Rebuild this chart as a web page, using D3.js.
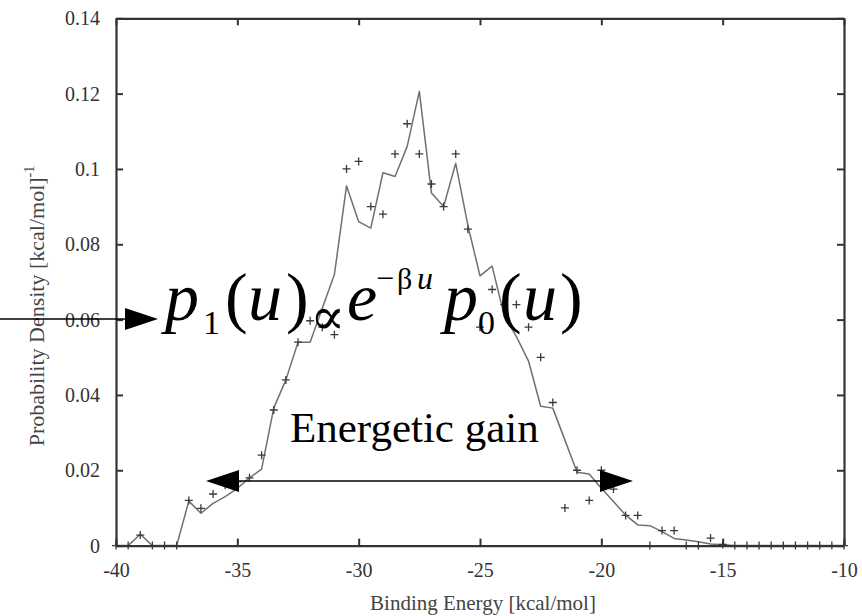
<!DOCTYPE html>
<html>
<head>
<meta charset="utf-8">
<script src="https://cdn.jsdelivr.net/npm/d3@7"></script>
<style>
  html, body { margin: 0; padding: 0; background: #fff; }
  svg { display: block; }
  text { font-family: "Liberation Serif", "DejaVu Serif", "Times New Roman", serif; }
</style>
</head>
<body>
<svg id="chart" width="862" height="616"></svg>
<script>
// ---------------- data ----------------
const energy = [-40, -39.5, -39, -38.5, -38, -37.5, -37, -36.5, -36, -35.5,
  -35, -34.5, -34, -33.5, -33, -32.5, -32, -31.5, -31, -30.5,
  -30, -29.5, -29, -28.5, -28, -27.5, -27, -26.5, -26, -25.5,
  -25, -24.5, -24, -23.5, -23, -22.5, -22, -21.5, -21, -20.5,
  -20, -19.5, -19, -18.5, -18, -17.5, -17, -16.5, -16, -15.5,
  -15, -14.5, -14, -13.5, -13, -12.5, -12, -11.5, -11, -10.5, -10];

const lineDensity = [0, 0, 0.003, 0, 0, 0, 0.0118, 0.0086, 0.0112, 0.013,
  0.0152, 0.018, 0.0203, 0.0365, 0.044, 0.054, 0.054, 0.063, 0.072, 0.0955,
  0.086, 0.0843, 0.099, 0.098, 0.106, 0.1206, 0.0936, 0.090, 0.1015, 0.085,
  0.0716, 0.0742, 0.061, 0.0555, 0.049, 0.037, 0.0365, 0.028, 0.0195, 0.019,
  0.0152, 0.0117, 0.0081, 0.0055, 0.0053, 0.0037, 0.0019, 0.0015, 0.001, 0.0004,
  0.0002, 0, 0, 0, 0, 0, 0, 0, 0, 0, 0];

const markerDensity = [0, 0, 0.0028, 0, 0, 0, 0.012, 0.0099, 0.0137, 0.016,
  0.017, 0.018, 0.024, 0.036, 0.044, 0.054, 0.0597, 0.058, 0.056, 0.100,
  0.102, 0.090, 0.088, 0.104, 0.112, 0.104, 0.096, 0.090, 0.104, 0.084,
  0.058, 0.068, 0.064, 0.064, 0.058, 0.050, 0.038, 0.010, 0.020, 0.012,
  0.020, 0.015, 0.008, 0.008, 0, 0.004, 0.004, 0, 0, 0.002,
  0.0003, 0, 0, 0, 0, 0, 0, 0, 0, 0, 0];

const xTicks = [-40, -35, -30, -25, -20, -15, -10];
const yTicks = [0, 0.02, 0.04, 0.06, 0.08, 0.1, 0.12, 0.14];
const yTickLabels = ["0", "0.02", "0.04", "0.06", "0.08", "0.1", "0.12", "0.14"];

const xTitle = "Binding Energy [kcal/mol]";
const yTitle = "Probability Density [kcal/mol]";
const gainLabel = "Energetic gain";

// ---------------- layout ----------------
const L = 116, R = 844, T = 18.3, B = 545.6;
const serif = '"Liberation Serif", "DejaVu Serif", "Times New Roman", serif';
const axisCol = "#333";

const svg = d3.select("#chart");
const x = d3.scaleLinear().domain([-40, -10]).range([L, R]);
const y = d3.scaleLinear().domain([0, 0.14]).range([B, T]);

// data line
const pts = energy.map((e, i) => ({e, v: lineDensity[i]}));
svg.append("path")
  .datum(pts)
  .attr("fill", "none")
  .attr("stroke", "#707070")
  .attr("stroke-width", 1.5)
  .attr("stroke-linejoin", "round")
  .attr("d", d3.line().x(d => x(d.e)).y(d => y(d.v)));

// markers
const mk = energy.map((e, i) => ({e, v: markerDensity[i]}));
svg.append("g").selectAll("path")
  .data(mk).join("path")
  .attr("transform", d => `translate(${x(d.e)},${y(d.v)})`)
  .attr("d", "M-4,0H4M0,-4V4")
  .attr("stroke", "#3a3a3a")
  .attr("stroke-width", 1.3)
  .attr("fill", "none");

// axes
function styleAxis(g) {
  g.selectAll("path.domain").attr("stroke", axisCol).attr("stroke-width", 2.2);
  g.selectAll(".tick line").attr("stroke", axisCol).attr("stroke-width", 2);
  g.selectAll(".tick text").attr("fill", "#333").style("font-family", serif).attr("font-size", 20);
}
svg.append("g").attr("transform", `translate(0,${B})`)
  .call(d3.axisBottom(x).tickValues(xTicks).tickSizeInner(-7).tickSizeOuter(0).tickPadding(17)
    .tickFormat(d => String(d)))
  .call(styleAxis);
svg.append("g").attr("transform", `translate(0,${T})`)
  .call(d3.axisTop(x).tickValues(xTicks).tickSizeInner(-7).tickSizeOuter(0).tickFormat(""))
  .call(styleAxis);
svg.append("g").attr("transform", `translate(${L},0)`)
  .call(d3.axisLeft(y).tickValues(yTicks).tickSizeInner(-7).tickSizeOuter(0).tickPadding(16)
    .tickFormat((d, i) => yTickLabels[i]))
  .call(styleAxis);
svg.append("g").attr("transform", `translate(${R},0)`)
  .call(d3.axisRight(y).tickValues(yTicks).tickSizeInner(-7).tickSizeOuter(0).tickFormat(""))
  .call(styleAxis);

// axis titles
svg.append("text")
  .attr("x", 483).attr("y", 610)
  .attr("text-anchor", "middle")
  .style("font-family", serif).attr("font-size", 21).attr("fill", "#444")
  .text(xTitle);

const yt = svg.append("text")
  .attr("transform", "translate(44,306) rotate(-90)")
  .attr("text-anchor", "middle")
  .style("font-family", serif).attr("font-size", 22).attr("fill", "#444");
yt.append("tspan").text(yTitle);
yt.append("tspan").attr("dy", -10).attr("font-size", 14).text("-1");

// ---------------- annotations ----------------
const ann = svg.append("g").attr("fill", "#000");
function arrowHead(tipX, tipY, dir) {
  const bx = tipX - dir * 33;
  ann.append("path")
    .attr("d", `M${tipX},${tipY}L${bx},${tipY - 11}L${bx},${tipY + 11}Z`)
    .attr("fill", "#000");
}
// arrow pointing to the formula
ann.append("line").attr("x1", 0).attr("y1", 319).attr("x2", 126).attr("y2", 319)
  .attr("stroke", "#000").attr("stroke-width", 1.3);
arrowHead(158, 319, 1);

// double arrow
ann.append("line").attr("x1", 238).attr("y1", 481).attr("x2", 601).attr("y2", 481)
  .attr("stroke", "#000").attr("stroke-width", 1.3);
arrowHead(206, 481, -1);
arrowHead(633, 481, 1);

ann.append("text").attr("x", 290).attr("y", 442)
  .style("font-family", serif).attr("font-size", 43).attr("fill", "#000")
  .text(gainLabel);

// formula p1(u) ∝ e^{-βu} p0(u)
const F = 68, Fs = 34;
const base = 320, subBase = 334, supBase = 289;
const glyphs = [
  {t: "p", x: 165, y: base, s: F, it: true},
  {t: "1", x: 203, y: subBase, s: Fs, it: false},
  {t: "(", x: 225, y: base, s: F, it: false},
  {t: "u", x: 248, y: base, s: F, it: true},
  {t: ")", x: 286, y: base, s: F, it: false},
  {t: "\u221D", x: 310, y: 334, s: 52, it: false},
  {t: "e", x: 347, y: base, s: F, it: true},
  {t: "\u2212", x: 376, y: supBase, s: 32, it: false},
  {t: "\u03B2", x: 397, y: supBase, s: 30, it: false},
  {t: "u", x: 417, y: supBase, s: 32, it: true},
  {t: "p", x: 444, y: base, s: F, it: true},
  {t: "0", x: 478, y: subBase, s: Fs, it: false},
  {t: "(", x: 499, y: base, s: F, it: false},
  {t: "u", x: 523, y: base, s: F, it: true},
  {t: ")", x: 560, y: base, s: F, it: false}
];
ann.selectAll("text.f").data(glyphs).join("text")
  .attr("class", "f")
  .attr("x", d => d.x).attr("y", d => d.y)
  .style("font-family", serif)
  .attr("font-size", d => d.s)
  .attr("font-style", d => d.it ? "italic" : "normal")
  .attr("fill", "#000")
  .text(d => d.t);
</script>
</body>
</html>
